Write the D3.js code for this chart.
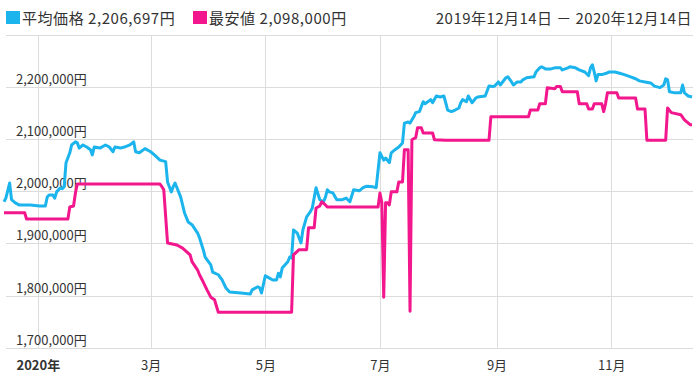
<!DOCTYPE html>
<html><head><meta charset="utf-8">
<script src="https://cdn.jsdelivr.net/npm/d3@7"></script>
<style>
html,body{margin:0;padding:0;background:#fff;}
svg{display:block;font-family:"Noto Sans CJK JP","Noto Sans",sans-serif;}
</style></head>
<body><svg id="c" width="700" height="383"></svg>
<script>
const seriesNames = ["平均価格", "最安値"];
const legendValues = ["2,206,697円", "2,098,000円"];
const seriesColors = ["#1cb4ec", "#f3178d"];
const rangeLabel = "2019年12月14日 － 2020年12月14日";
const dateDomain = ["2019-12-14", "2020-12-14"];
const yTicks = [1700000, 1800000, 1900000, 2000000, 2100000, 2200000, 2300000];
const yLabelTicks = [1700000, 1800000, 1900000, 2000000, 2100000, 2200000];
const xTickDates = ["2020-01-01", "2020-03-01", "2020-05-01", "2020-07-01", "2020-09-01", "2020-11-01"];
const xTickLabels = ["2020年", "3月", "5月", "7月", "9月", "11月"];

const avgDates = ["2019-12-14","2019-12-15","2019-12-17","2019-12-18","2019-12-20","2019-12-22","2019-12-28","2020-01-02","2020-01-05","2020-01-06","2020-01-07","2020-01-09","2020-01-10","2020-01-11","2020-01-13","2020-01-14","2020-01-15","2020-01-16","2020-01-18","2020-01-19","2020-01-21","2020-01-22","2020-01-23","2020-01-25","2020-01-27","2020-01-29","2020-01-30","2020-01-31","2020-02-03","2020-02-06","2020-02-08","2020-02-10","2020-02-11","2020-02-14","2020-02-16","2020-02-19","2020-02-21","2020-02-22","2020-02-24","2020-02-27","2020-03-01","2020-03-03","2020-03-06","2020-03-09","2020-03-10","2020-03-12","2020-03-13","2020-03-14","2020-03-17","2020-03-19","2020-03-21","2020-03-23","2020-03-26","2020-03-27","2020-03-29","2020-03-30","2020-04-02","2020-04-03","2020-04-06","2020-04-08","2020-04-10","2020-04-12","2020-04-18","2020-04-23","2020-04-24","2020-04-27","2020-04-28","2020-04-29","2020-05-01","2020-05-02","2020-05-05","2020-05-07","2020-05-08","2020-05-09","2020-05-10","2020-05-13","2020-05-14","2020-05-15","2020-05-16","2020-05-18","2020-05-20","2020-05-21","2020-05-23","2020-05-25","2020-05-26","2020-05-28","2020-05-30","2020-06-01","2020-06-02","2020-06-03","2020-06-04","2020-06-06","2020-06-08","2020-06-11","2020-06-13","2020-06-15","2020-06-17","2020-06-20","2020-06-22","2020-06-24","2020-06-27","2020-06-29","2020-07-01","2020-07-03","2020-07-04","2020-07-06","2020-07-07","2020-07-09","2020-07-11","2020-07-13","2020-07-14","2020-07-16","2020-07-17","2020-07-19","2020-07-20","2020-07-22","2020-07-24","2020-07-25","2020-07-28","2020-07-29","2020-07-31","2020-08-02","2020-08-04","2020-08-05","2020-08-06","2020-08-08","2020-08-10","2020-08-12","2020-08-13","2020-08-14","2020-08-16","2020-08-17","2020-08-19","2020-08-21","2020-08-22","2020-08-26","2020-08-28","2020-08-30","2020-08-31","2020-09-02","2020-09-03","2020-09-06","2020-09-07","2020-09-09","2020-09-10","2020-09-12","2020-09-14","2020-09-15","2020-09-17","2020-09-21","2020-09-22","2020-09-24","2020-09-25","2020-09-27","2020-09-30","2020-10-02","2020-10-05","2020-10-06","2020-10-09","2020-10-10","2020-10-13","2020-10-15","2020-10-18","2020-10-20","2020-10-21","2020-10-22","2020-10-23","2020-10-24","2020-10-25","2020-10-27","2020-10-29","2020-10-31","2020-11-03","2020-11-06","2020-11-08","2020-11-11","2020-11-14","2020-11-16","2020-11-19","2020-11-22","2020-11-24","2020-11-27","2020-11-29","2020-11-30","2020-12-01","2020-12-02","2020-12-05","2020-12-08","2020-12-09","2020-12-10","2020-12-12","2020-12-14"];
const avgValues = [1980000,1987000,2016000,1984000,1978000,1974000,1974000,1972000,1972000,1989000,1993000,1993000,1987000,1999000,2007000,2005000,2009000,2055000,2074000,2089000,2095000,2093000,2083000,2089000,2085000,2080000,2070000,2085000,2083000,2089000,2085000,2076000,2085000,2083000,2085000,2089000,2095000,2076000,2074000,2082000,2076000,2070000,2060000,2057000,2018000,1999000,2009000,2016000,1989000,1959000,1941000,1936000,1920000,1911000,1888000,1874000,1859000,1845000,1840000,1830000,1815000,1807000,1805000,1803000,1811000,1817000,1815000,1805000,1838000,1836000,1830000,1830000,1843000,1836000,1853000,1865000,1874000,1872000,1926000,1920000,1901000,1926000,1951000,1961000,1968000,2007000,1984000,1980000,1989000,2003000,1999000,1997000,1984000,1984000,1987000,1980000,2003000,2001000,2007000,2010000,2009000,2007000,2074000,2060000,2064000,2055000,2074000,2080000,2085000,2093000,2131000,2133000,2131000,2143000,2151000,2153000,2172000,2168000,2176000,2170000,2183000,2181000,2183000,2170000,2156000,2153000,2156000,2160000,2170000,2176000,2172000,2183000,2170000,2179000,2181000,2183000,2202000,2201000,2202000,2210000,2204000,2218000,2220000,2210000,2204000,2210000,2210000,2214000,2218000,2220000,2229000,2237000,2239000,2235000,2235000,2237000,2237000,2233000,2237000,2239000,2237000,2233000,2229000,2222000,2237000,2243000,2229000,2212000,2224000,2224000,2226000,2229000,2229000,2226000,2224000,2220000,2216000,2212000,2210000,2208000,2202000,2199000,2204000,2216000,2214000,2191000,2189000,2189000,2204000,2189000,2183000,2181000];

const minDates = ["2019-12-14","2019-12-25","2019-12-26","2020-01-17","2020-01-18","2020-01-20","2020-01-21","2020-01-22","2020-03-06","2020-03-07","2020-03-08","2020-03-10","2020-03-15","2020-03-18","2020-03-22","2020-03-23","2020-03-26","2020-03-27","2020-03-29","2020-03-31","2020-04-02","2020-04-04","2020-04-05","2020-04-06","2020-05-15","2020-05-16","2020-05-19","2020-05-23","2020-05-24","2020-05-27","2020-05-28","2020-05-30","2020-05-31","2020-06-02","2020-06-03","2020-06-30","2020-07-01","2020-07-02","2020-07-03","2020-07-04","2020-07-05","2020-07-06","2020-07-07","2020-07-10","2020-07-11","2020-07-13","2020-07-14","2020-07-16","2020-07-17","2020-07-18","2020-07-20","2020-07-21","2020-07-23","2020-07-24","2020-07-29","2020-07-30","2020-08-05","2020-08-28","2020-08-29","2020-09-18","2020-09-19","2020-09-23","2020-09-24","2020-09-27","2020-09-28","2020-10-02","2020-10-03","2020-10-05","2020-10-06","2020-10-14","2020-10-15","2020-10-19","2020-10-20","2020-10-22","2020-10-23","2020-10-27","2020-10-28","2020-10-29","2020-10-30","2020-11-04","2020-11-05","2020-11-14","2020-11-15","2020-11-19","2020-11-20","2020-11-30","2020-12-01","2020-12-03","2020-12-08","2020-12-10","2020-12-13","2020-12-14"];
const minValues = [1959000,1959000,1947000,1947000,1970000,1972000,1997000,2014000,2014000,2009000,2003000,1901000,1897000,1891000,1878000,1865000,1849000,1840000,1826000,1811000,1797000,1792000,1780000,1768000,1768000,1878000,1888000,1888000,1930000,1930000,1968000,1972000,1980000,1974000,1970000,1970000,1997000,1978000,1797000,1978000,1978000,1974000,1999000,1999000,2018000,2018000,2080000,2080000,1770000,2099000,2103000,2122000,2122000,2112000,2112000,2099000,2098000,2098000,2143000,2143000,2156000,2156000,2168000,2168000,2199000,2197000,2201000,2201000,2191000,2191000,2168000,2168000,2158000,2158000,2168000,2168000,2153000,2168000,2189000,2189000,2179000,2179000,2158000,2158000,2098000,2098000,2160000,2151000,2147000,2137000,2128000,2128000];

const parse = d3.timeParse("%Y-%m-%d");
const svg = d3.select("#c");
const x = d3.scaleTime().domain(dateDomain.map(parse)).range([4, 692]);
const y = d3.scaleLinear().domain([1700000, 2300000]).range([347.7, 35]);

// grid
const grid = svg.append("g");
grid.selectAll("line.h").data(yTicks).join("line")
  .attr("x1", 6).attr("x2", 693)
  .attr("y1", d => Math.round(y(d)) + 0.5).attr("y2", d => Math.round(y(d)) + 0.5)
  .attr("stroke", "#dcdcdc").attr("stroke-width", 1);
grid.selectAll("line.v").data(xTickDates.map(parse)).join("line")
  .attr("x1", d => Math.round(x(d)) + 0.5).attr("x2", d => Math.round(x(d)) + 0.5)
  .attr("y1", y(2300000)).attr("y2", y(1700000))
  .attr("stroke", "#dcdcdc").attr("stroke-width", 1);

// y labels
const fmt = d3.format(",");
svg.append("g").selectAll("text").data(yLabelTicks).join("text")
  .attr("x", 16).attr("y", d => y(d) - 3)
  .attr("font-size", 13).attr("fill", "#333")
  .text(d => fmt(d) + "円");

// x axis
const xAxis = d3.axisBottom(x)
  .tickValues(xTickDates.map(parse))
  .tickFormat((d, i) => xTickLabels[i])
  .tickSize(0).tickPadding(0);
const gx = svg.append("g").attr("transform", "translate(0,370)").call(xAxis);
gx.select(".domain").remove();
gx.selectAll("text").attr("font-size", 13).attr("fill", "#333").attr("dy", 0)
  .attr("font-family", '"Noto Sans CJK JP", sans-serif')
  .attr("font-weight", (d, i) => i === 0 ? "bold" : "normal");

// lines
const line = d3.line().x(d => x(d[0])).y(d => y(d[1]));
const avgData = avgDates.map((d, i) => [parse(d), avgValues[i]]);
const minData = minDates.map((d, i) => [parse(d), minValues[i]]);
[avgData, minData].forEach((data, i) => {
  svg.append("path").datum(data)
    .attr("fill", "none").attr("stroke", seriesColors[i])
    .attr("stroke-width", 3).attr("stroke-linejoin", "round")
    .attr("d", line);
});

// legend
const legendX = [6, 193];
seriesNames.forEach((n, i) => {
  svg.append("rect").attr("x", legendX[i]).attr("y", 11).attr("width", 14).attr("height", 13)
    .attr("fill", seriesColors[i]);
  svg.append("text").attr("x", legendX[i] + 16).attr("y", 24)
    .attr("font-size", 15).attr("fill", "#333").attr("letter-spacing", 0.55)
    .text(n + " " + legendValues[i]);
});
svg.append("text").attr("x", 692).attr("y", 24).attr("text-anchor", "end")
  .attr("font-size", 15).attr("fill", "#333").attr("letter-spacing", 0.45).text(rangeLabel);
</script></body></html>
